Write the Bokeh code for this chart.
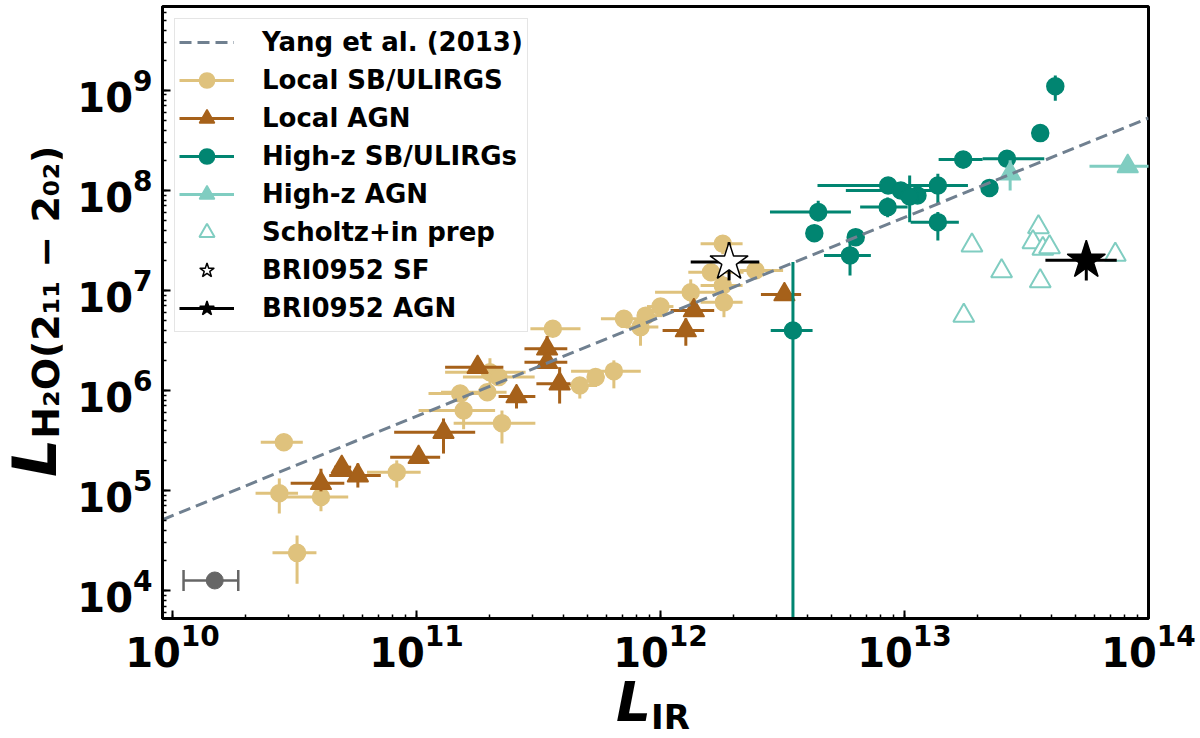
from bokeh.plotting import figure
from bokeh.models import (ColumnDataSource, Legend, LegendItem, Whisker, Div,
                          TeeHead, LogTicker, Range1d)
from bokeh.layouts import row, column
from bokeh.embed import file_html
from bokeh.resources import INLINE

# Local SB/ULIRGS
lsb_lir = [2.86e10, 2.74e10, 4.06e10, 3.24e10, 8.3e10, 1.56e11, 2.24e11, 2.0e11, 2.17e11,
           1.95e11, 1.51e11, 3.62e11, 4.67e11, 5.42e11, 6.44e11, 7.08e11, 8.28e11, 8.7e11,
           1.0e12, 1.33e12, 1.61e12, 1.8e12, 1.8e12, 1.82e12, 2.45e12]
lsb_lh2o = [3.04e5, 9.4e4, 8.6e4, 2.38e4, 1.52e5, 6.3e5, 4.7e5, 1.52e6, 1.36e6,
            9.6e5, 9.3e5, 4.14e6, 1.12e6, 1.36e6, 1.56e6, 5.2e6, 4.3e6, 5.6e6,
            6.9e6, 9.6e6, 1.52e7, 2.93e7, 1.12e7, 7.6e6, 1.58e7]
lsb_lir_lo = [2.30e10, 2.19e10, 2.75e10, 2.57e10, 6.27e10, 1.02e11, 1.42e11, 1.31e11, 1.55e11,
              1.26e11, 1.12e11, 2.93e11, 3.9e11, 5.0e11, 4.3e11, 5.7e11, 7.2e11, 8.0e11,
              8.8e11, 9.5e11, 1.3e12, 1.46e12, 1.46e12, 1.46e12, 2.11e12]
lsb_lir_hi = [3.42e10, 3.27e10, 5.25e10, 3.89e10, 1.04e11, 2.1e11, 3.07e11, 2.8e11, 3.05e11,
              2.34e11, 1.82e11, 4.7e11, 5.5e11, 5.9e11, 8.3e11, 8.6e11, 9.8e11, 1.02e12,
              1.13e12, 1.82e12, 2.19e12, 2.17e12, 2.17e12, 2.17e12, 3.18e12]
lsb_lh2o_lo = [3.04e5, 5.9e4, 6.2e4, 1.17e4, 1.07e5, 4.1e5, 2.95e5, 1.12e6, 1.36e6,
               9.6e5, 9.3e5, 3.8e6, 8.3e5, 1.36e6, 1.05e6, 5.2e6, 2.8e6, 5.6e6,
               6.9e6, 7.1e6, 1.52e7, 2.3e7, 8.9e6, 5.4e6, 1.58e7]
lsb_lh2o_hi = [3.04e5, 1.32e5, 9.8e4, 3.55e4, 2.0e5, 7.6e5, 6.3e5, 2.1e6, 1.36e6,
               9.6e5, 9.3e5, 5.0e6, 1.35e6, 1.36e6, 2.0e6, 5.2e6, 5.25e6, 5.6e6,
               6.9e6, 1.29e7, 1.52e7, 3.55e7, 1.41e7, 1.08e7, 1.58e7]

# Local AGN
lagn_lir = [4.06e10, 4.94e10, 5.75e10, 1.02e11, 1.29e11, 1.78e11, 2.57e11, 3.43e11, 3.43e11,
            3.86e11, 1.27e12, 1.37e12, 3.22e12]
lagn_lh2o = [1.18e5, 1.71e5, 1.41e5, 2.15e5, 3.83e5, 1.71e6, 8.7e5, 2.61e6, 1.92e6,
             1.17e6, 3.98e6, 6.3e6, 9.1e6]
lagn_lir_lo = [3.05e10, 4.6e10, 4.39e10, 7.8e10, 8.1e10, 1.31e11, 2.17e11, 2.77e11, 2.77e11,
               3.1e11, 1.02e12, 1.1e12, 2.58e12]
lagn_lir_hi = [5.06e10, 5.4e10, 7.14e10, 1.25e11, 1.74e11, 2.27e11, 3.07e11, 4.15e11, 4.15e11,
               4.28e11, 1.51e12, 1.66e12, 3.77e12]
lagn_lh2o_lo = [9.8e4, 1.71e5, 1.07e5, 1.9e5, 2.34e5, 1.71e6, 6.6e5, 2.3e6, 1.92e6,
                7.4e5, 2.8e6, 6.3e6, 9.1e6]
lagn_lh2o_hi = [1.65e5, 1.71e5, 1.86e5, 2.35e5, 5.25e5, 1.71e6, 1.12e6, 3.5e6, 1.92e6,
                1.71e6, 5.25e6, 6.3e6, 9.1e6]

# High-z SB/ULIRGs
hsb_lir = [3.49e12, 4.27e12, 4.43e12, 5.98e12, 6.31e12, 8.57e12, 8.53e12, 9.66e12, 1.13e13,
           1.05e13, 1.37e13, 1.37e13, 1.74e13, 2.23e13, 2.63e13, 3.6e13, 4.15e13]
hsb_lh2o = [3.98e6, 3.74e7, 6.07e7, 2.24e7, 3.41e7, 1.12e8, 6.81e7, 1.0e8, 8.9e7,
            8.7e7, 1.12e8, 4.82e7, 2.04e8, 1.06e8, 2.07e8, 3.74e8, 1.1e9]
hsb_lir_lo = [2.83e12, 4.27e12, 2.81e12, 4.68e12, 6.31e12, 4.4e12, 6.58e12, 5.75e12, 1.13e13,
              1.05e13, 1.03e13, 1.06e13, 1.38e13, 2.23e13, 2.09e13, 3.6e13, 4.15e13]
hsb_lir_hi = [4.2e12, 4.27e12, 6.03e12, 7.28e12, 6.31e12, 1.26e13, 1.03e13, 1.41e13, 1.13e13,
              1.05e13, 1.82e13, 1.67e13, 2.09e13, 2.23e13, 3.74e13, 3.6e13, 4.15e13]
hsb_lh2o_lo = [1e3, 3.74e7, 4.9e7, 1.41e7, 3.41e7, 1.12e8, 5.4e7, 1.0e8, 8.9e7,
               4.8e7, 7.4e7, 3.16e7, 1.66e8, 1.06e8, 2.07e8, 3.74e8, 7.9e8]
hsb_lh2o_hi = [1.92e7, 3.74e7, 7.9e7, 3.31e7, 3.41e7, 1.12e8, 8.5e7, 1.0e8, 8.9e7,
               1.41e8, 1.47e8, 6.07e7, 2.3e8, 1.06e8, 2.07e8, 3.74e8, 1.41e9]

# High-z AGN
hagn_lir = [2.71e13, 8.22e13]
hagn_lh2o = [1.47e8, 1.74e8]
hagn_lir_lo = [2.71e13, 5.73e13]
hagn_lir_hi = [2.71e13, 1.6e14]
hagn_lh2o_lo = [1.0e8, 1.74e8]
hagn_lh2o_hi = [2.0e8, 1.74e8]

# Scholtz+in prep
sch_lir = [1.89e13, 2.5e13, 3.54e13, 3.36e13, 3.69e13, 3.93e13, 3.6e13, 7.31e13, 1.75e13]
sch_lh2o = [2.82e7, 1.56e7, 4.3e7, 3.04e7, 2.61e7, 2.71e7, 1.24e7, 2.28e7, 5.6e6]

# BRI0952 SF and AGN
sf_lir, sf_lh2o = [1.91e12], [1.92e7]
sf_lir_lo, sf_lir_hi = [1.33e12], [2.54e12]
sf_lh2o_lo, sf_lh2o_hi = [1.26e7], [3.04e7]
agn_lir, agn_lh2o = [5.56e13], [2.0e7]
agn_lir_lo, agn_lir_hi = [3.78e13], [7.41e13]
agn_lh2o_lo, agn_lh2o_hi = [1.26e7], [2.97e7]

# typical uncertainty point
typ_lir, typ_lh2o = [1.49e10], [1.26e4]
typ_lir_lo, typ_lir_hi = [1.11e10], [1.86e10]

# Yang et al. (2013) relation, read at the plot edges
yang_lir = [9.1e9, 1.0e14]
yang_lh2o = [5.1e4, 5.3e8]

FONT = "DejaVu Sans"

p = figure(width=1138, height=678, x_axis_type="log", y_axis_type="log",
           x_range=Range1d(9.1e9, 1e14), y_range=Range1d(5.25e3, 6.9e9),
           output_backend="svg", toolbar_location=None,
           min_border_left=100, min_border_right=52, min_border_top=6, min_border_bottom=60)

p.xgrid.visible = False
p.ygrid.visible = False
p.outline_line_color = "black"
p.outline_line_width = 3
p.xaxis.ticker = LogTicker(num_minor_ticks=10)
p.yaxis.ticker = LogTicker(num_minor_ticks=10)
for ax in [p.xaxis[0], p.yaxis[0]]:
    ax.axis_line_width = 3
    ax.major_tick_in = 8
    ax.major_tick_out = 0
    ax.minor_tick_in = 4
    ax.minor_tick_out = 0
    ax.major_tick_line_width = 2
    ax.minor_tick_line_width = 1.5
    ax.major_label_text_font = FONT
    ax.major_label_text_font_style = "bold"
    ax.major_label_text_font_size = "40px"
    ax.major_label_text_color = "black"
p.yaxis.major_label_standoff = 10
p.xaxis.major_label_standoff = 5


def series(lir, lh2o, lir_lo, lir_hi, lh2o_lo, lh2o_hi, color, marker, size, fill, lw=3):
    src = ColumnDataSource(dict(x=lir, y=lh2o, xlo=lir_lo, xhi=lir_hi, ylo=lh2o_lo, yhi=lh2o_hi))
    h = p.segment(x0="xlo", y0="y", x1="xhi", y1="y", source=src, line_color=color, line_width=lw)
    p.segment(x0="x", y0="ylo", x1="x", y1="yhi", source=src, line_color=color, line_width=lw)
    m = p.scatter("x", "y", source=src, marker=marker, size=size, fill_color=fill,
                  line_color=color, line_width=1.5)
    return h, m


# typical error
tsrc = ColumnDataSource(dict(x=typ_lir, y=typ_lh2o, xlo=typ_lir_lo, xhi=typ_lir_hi))
p.add_layout(Whisker(base="y", lower="xlo", upper="xhi", dimension="width", source=tsrc,
                     line_color="#666666", line_width=2.5,
                     lower_head=TeeHead(size=21, line_color="#666666", line_width=2.5),
                     upper_head=TeeHead(size=21, line_color="#666666", line_width=2.5)))
p.scatter("x", "y", source=tsrc, size=17, fill_color="#666666", line_color="#666666")

h1, m1 = series(lsb_lir, lsb_lh2o, lsb_lir_lo, lsb_lir_hi, lsb_lh2o_lo, lsb_lh2o_hi,
                "#dfc27d", "circle", 17, "#dfc27d")
h2, m2 = series(lagn_lir, lagn_lh2o, lagn_lir_lo, lagn_lir_hi, lagn_lh2o_lo, lagn_lh2o_hi,
                "#a6611a", "triangle", 21, "#a6611a")
h3, m3 = series(hsb_lir, hsb_lh2o, hsb_lir_lo, hsb_lir_hi, hsb_lh2o_lo, hsb_lh2o_hi,
                "#018571", "circle", 17, "#018571")
h4, m4 = series(hagn_lir, hagn_lh2o, hagn_lir_lo, hagn_lir_hi, hagn_lh2o_lo, hagn_lh2o_hi,
                "#80cdc1", "triangle", 21, "#80cdc1")
m5 = p.scatter(sch_lir, sch_lh2o, marker="triangle", size=21, fill_color="white",
               line_color="#80cdc1", line_width=2)
h6, m6 = series(sf_lir, sf_lh2o, sf_lir_lo, sf_lir_hi, sf_lh2o_lo, sf_lh2o_hi,
                "black", "star", 40, "white")
h7, m7 = series(agn_lir, agn_lh2o, agn_lir_lo, agn_lir_hi, agn_lh2o_lo, agn_lh2o_hi,
                "black", "star", 40, "black")

yang = p.line(yang_lir, yang_lh2o, line_color="#708090", line_width=3, line_dash="12 6")

# legend-only handle lines
blue = p.segment(x0=[], y0=[], x1=[], y1=[], line_color="#1f77b4", line_width=3)
orange = p.segment(x0=[], y0=[], x1=[], y1=[], line_color="#ff7f0e", line_width=3)

legend = Legend(items=[
    LegendItem(label="Yang et al. (2013)", renderers=[yang]),
    LegendItem(label="Local SB/ULIRGS", renderers=[h1, m1]),
    LegendItem(label="Local AGN", renderers=[h2, m2]),
    LegendItem(label="High-z SB/ULIRGs", renderers=[h3, m3]),
    LegendItem(label="High-z AGN", renderers=[h4, m4]),
    LegendItem(label="Scholtz+in prep", renderers=[blue, m5]),
    LegendItem(label="BRI0952 SF", renderers=[orange, m6]),
    LegendItem(label="BRI0952 AGN", renderers=[h7, m7]),
], location="top_left")
legend.margin = 12
legend.padding = 4
legend.spacing = 0
legend.glyph_width = 55
legend.glyph_height = 38
legend.label_height = 38
legend.label_standoff = 28
legend.label_text_font = FONT
legend.label_text_font_style = "bold"
legend.label_text_font_size = "26px"
legend.label_text_color = "black"
legend.border_line_color = "#cccccc"
legend.border_line_width = 1.5
legend.background_fill_alpha = 0.9
p.add_layout(legend)

# axis titles (big italic L with a subscript) as HTML text beside the plot
ylab = Div(width=62, height=738, margin=0, text=(
    '<div style="position:relative;width:62px;height:738px;">'
    '<div style="position:absolute;left:12px;top:477px;transform:rotate(-90deg);'
    'transform-origin:0 0;white-space:nowrap;font-family:\'DejaVu Sans\';font-weight:bold;'
    'font-size:38px;line-height:46px;color:black;">'
    '<span style="display:inline-block;font-size:60px;line-height:46px;font-style:italic;">L</span>'
    '<span style="position:relative;top:3px;">'
    'H\u2082O(2\u2081\u2081 \u2212 2\u2080\u2082)</span></div></div>'))
xlab = Div(width=1138, height=60, margin=0, text=(
    '<div style="position:relative;width:1138px;height:60px;">'
    '<div style="position:absolute;left:554px;top:0px;white-space:nowrap;'
    'font-family:\'DejaVu Sans\';font-weight:bold;line-height:48px;color:black;">'
    '<span style="font-size:55px;font-style:italic;">L</span>'
    '<span style="font-size:34px;position:relative;top:8px;">IR</span></div></div>'))

layout = row(ylab, column(p, xlab))

open("out.html", "w").write(file_html(layout, INLINE))
